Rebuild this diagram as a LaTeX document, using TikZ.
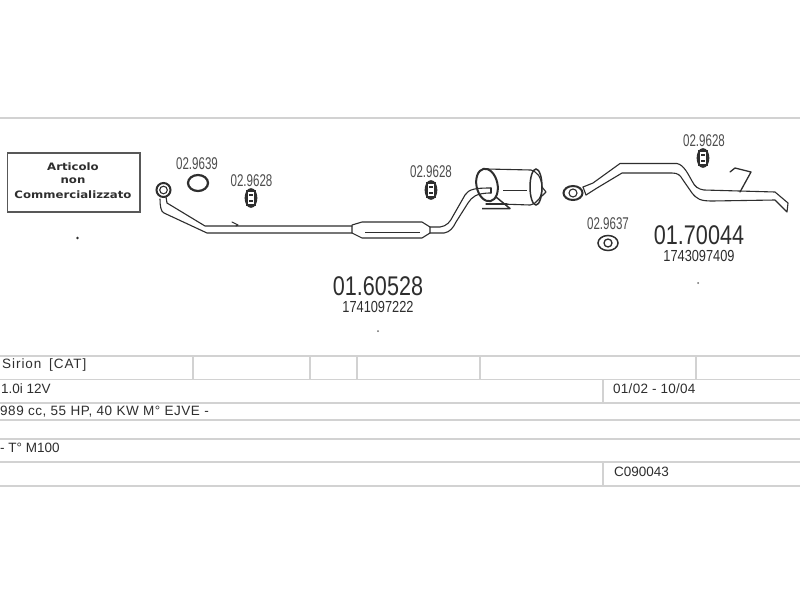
\documentclass[tikz,border=0pt]{standalone}
\usepackage{fontspec}
\setmainfont{Liberation Sans}
\newfontfamily\condA[FakeStretch=0.80]{Liberation Sans}
\newfontfamily\condB[FakeStretch=0.68]{Liberation Sans}
\newfontfamily\boxfont[FakeStretch=1.15]{DejaVu Sans Bold}
\definecolor{rule}{HTML}{D2D2D2}
\definecolor{ink}{HTML}{2E2E2E}
\tikzset{
  x=1pt,y=-1pt,
  rowline/.style={draw=rule,line width=2pt},
  thinrow/.style={draw=rule,line width=1.3pt},
  pipe/.style={draw=ink,line width=1.1pt,line join=round,line cap=round},
  heavy/.style={draw=ink,line width=1.5pt,line join=round},
  code/.style={text=ink!85,font=\condB\fontsize{17}{17}\selectfont,inner sep=0pt},
  bignum/.style={text=ink,font=\condA\fontsize{27}{27}\selectfont,inner sep=0pt},
  subnum/.style={text=ink,font=\condA\fontsize{16}{16}\selectfont,inner sep=0pt},
  cell/.style={text=ink,font=\fontsize{13.5}{14}\selectfont,inner sep=0pt,anchor=west},
  boxtext/.style={text=ink,font=\boxfont\fontsize{10.2}{11}\selectfont,inner sep=0pt},
}
\newcommand{\rubberpart}[1]{%
  \begin{scope}[shift={#1}]
    \draw[ink,line width=2pt] (-4,-7) rectangle (4,7);
    \draw[ink,line width=1.8pt] (-2,-3) -- (2,-3) (-2,3) -- (2,3);
    \draw[ink,line width=1.7pt] (0,0) ellipse [x radius=5.5,y radius=9];
  \end{scope}}
\begin{document}
\begin{tikzpicture}
\useasboundingbox (0,0) rectangle (800,600);
\fill[white] (0,0) rectangle (800,600);
% table rules
\draw[rowline] (0,117.5) -- (800,117.5);
\draw[rowline] (0,356) -- (800,356);
\draw[thinrow] (0,379.5) -- (800,379.5);
\draw[rowline] (0,402.5) -- (800,402.5);
\draw[rowline] (0,420) -- (800,420);
\draw[thinrow] (0,439) -- (800,439);
\draw[rowline] (0,462) -- (800,462);
\draw[rowline] (0,486) -- (800,486);
\foreach \vx in {193,310,357,480,696} \draw[rowline] (\vx,356) -- (\vx,379.5);
\draw[rowline] (602.5,379.5) -- (602.5,402.5);
\draw[rowline] (602.5,462) -- (602.5,486);
% table text
\node[cell] (t1) at (2,365) {\addfontfeature{LetterSpace=7}Sirion\hspace{3pt} [CAT]};
\node[cell] (t2) at (1,388.5) {1.0i 12V};
\node[cell] (t3) at (0,412) {\addfontfeature{LetterSpace=4}989 cc, 55 HP, 40 KW M° EJVE -};
\node[cell] (t4) at (0,448) {- T° M100};
\node[cell] (t5) at (613,388.5) {\addfontfeature{LetterSpace=2}01/02 - 10/04};
\node[cell] (t6) at (614,472) {C090043};
% box
\draw[draw=ink!80,line width=1.2pt] (7.5,153) rectangle (140,212);
\node[boxtext] (b1) at (73,167) {Articolo};
\node[boxtext] (b2) at (73,181) {non};
\node[boxtext] (b3) at (73,194.5) {Commercializzato};
% labels
\node[code] (c1) at (197,164) {02.9639};
\node[code] (c2) at (251.5,181) {02.9628};
\node[code] (c3) at (431,172) {02.9628};
\node[code] (c4) at (704,141) {02.9628};
\node[code] (c5) at (608,224) {02.9637};
\node[bignum] (n1) at (378,286) {01.60528};
\node[subnum] (s1) at (378,307) {1741097222};
\node[bignum] (n2) at (699,235) {01.70044};
\node[subnum] (s2) at (699,256) {1743097409};
% rubber parts
\rubberpart{(251,198)}
\rubberpart{(431,190)}
\rubberpart{(703,158)}
% rings and gaskets
\draw[ink,line width=2.2pt] (198,183) ellipse [x radius=10,y radius=8];
\draw[ink,line width=1.5pt] (608,243) ellipse [x radius=10,y radius=7.5];
\draw[ink,line width=1.3pt] (608,243) circle [radius=4];
% first pipe with flange
\draw[ink,line width=2pt] (163.5,190) circle [radius=7];
\draw[ink,line width=1.1pt] (163.5,190) circle [radius=3.8];
\draw[pipe] (167,203) -- (205,226) -- (352,226);
\draw[pipe] (160,199) .. controls (160,206) and (161,212) .. (164,213) -- (207,233) -- (352,233);
\draw[pipe] (167,203) -- (166,197);
\draw[pipe] (232,222) -- (238,225) -- (236,226);
% muffler
\draw[pipe] (352,226) -- (352,233) (352,225) -- (362,222) -- (422,222) -- (430,227) -- (430,233) -- (422,238) -- (362,238) -- (352,233);
\draw[draw=ink,line width=0.6pt] (365,232.5) -- (420,232.5);
% tail pipe to silencer
\draw[pipe] (430,227) -- (440,227) .. controls (447,226) and (450,222) .. (453,216) -- (465,195) .. controls (469,189) and (475,188) .. (491,188);
\draw[pipe] (430,233) -- (444,233) .. controls (450,232) and (453,228) .. (456,222) -- (468,203) .. controls (472,197) and (476,193) .. (491,193);
\draw[pipe] (491,188) -- (491,193);
% silencer
\draw[ink,line width=2pt,rotate around={12:(487,185)}] (487,185) ellipse [x radius=10.5,y radius=16.5];
\draw[pipe] (487,169) -- (531,170) .. controls (537,172) and (541,176) .. (542,187) .. controls (542,197) and (538,203) .. (530,205) -- (500,204);
\draw[ink,line width=1.5pt] (536,187) ellipse [x radius=6,y radius=18];
\draw[draw=ink,line width=0.7pt] (503,190) -- (527,190);
\draw[pipe] (542,187) -- (546,192) -- (542,196);
% bracket
\draw[heavy] (482,208.5) -- (510,208.5) -- (496,197);
\draw[pipe] (486,204) -- (507,204);
% second pipe
\draw[ink,line width=2pt] (573,193) ellipse [x radius=9.5,y radius=7];
\draw[ink,line width=1.1pt] (573,193) circle [radius=4];
\draw[pipe] (583,187) -- (593,183) -- (620,163.5) -- (677,163.5) .. controls (684,165) and (688,174) .. (692,181) .. controls (695,187) and (698,189) .. (704,190) -- (775,192) -- (788,203) -- (787,212) -- (775,200) -- (712,201) .. controls (700,201) and (697,199) .. (692,193) -- (683,180) .. controls (680,175) and (678,173) .. (672,173) -- (622,173) -- (597,188) -- (586,195);
\draw[pipe] (583,187) -- (586,195);
% hanger
\draw[pipe,line width=1.3pt] (740,192) -- (751,172) -- (735,168) -- (730,172);
% specks
\fill[ink] (77.5,238) circle [radius=1.3];
\fill[ink!70] (378,331) circle [radius=1];
\fill[ink!70] (698,283) circle [radius=1];
\end{tikzpicture}
\end{document}
